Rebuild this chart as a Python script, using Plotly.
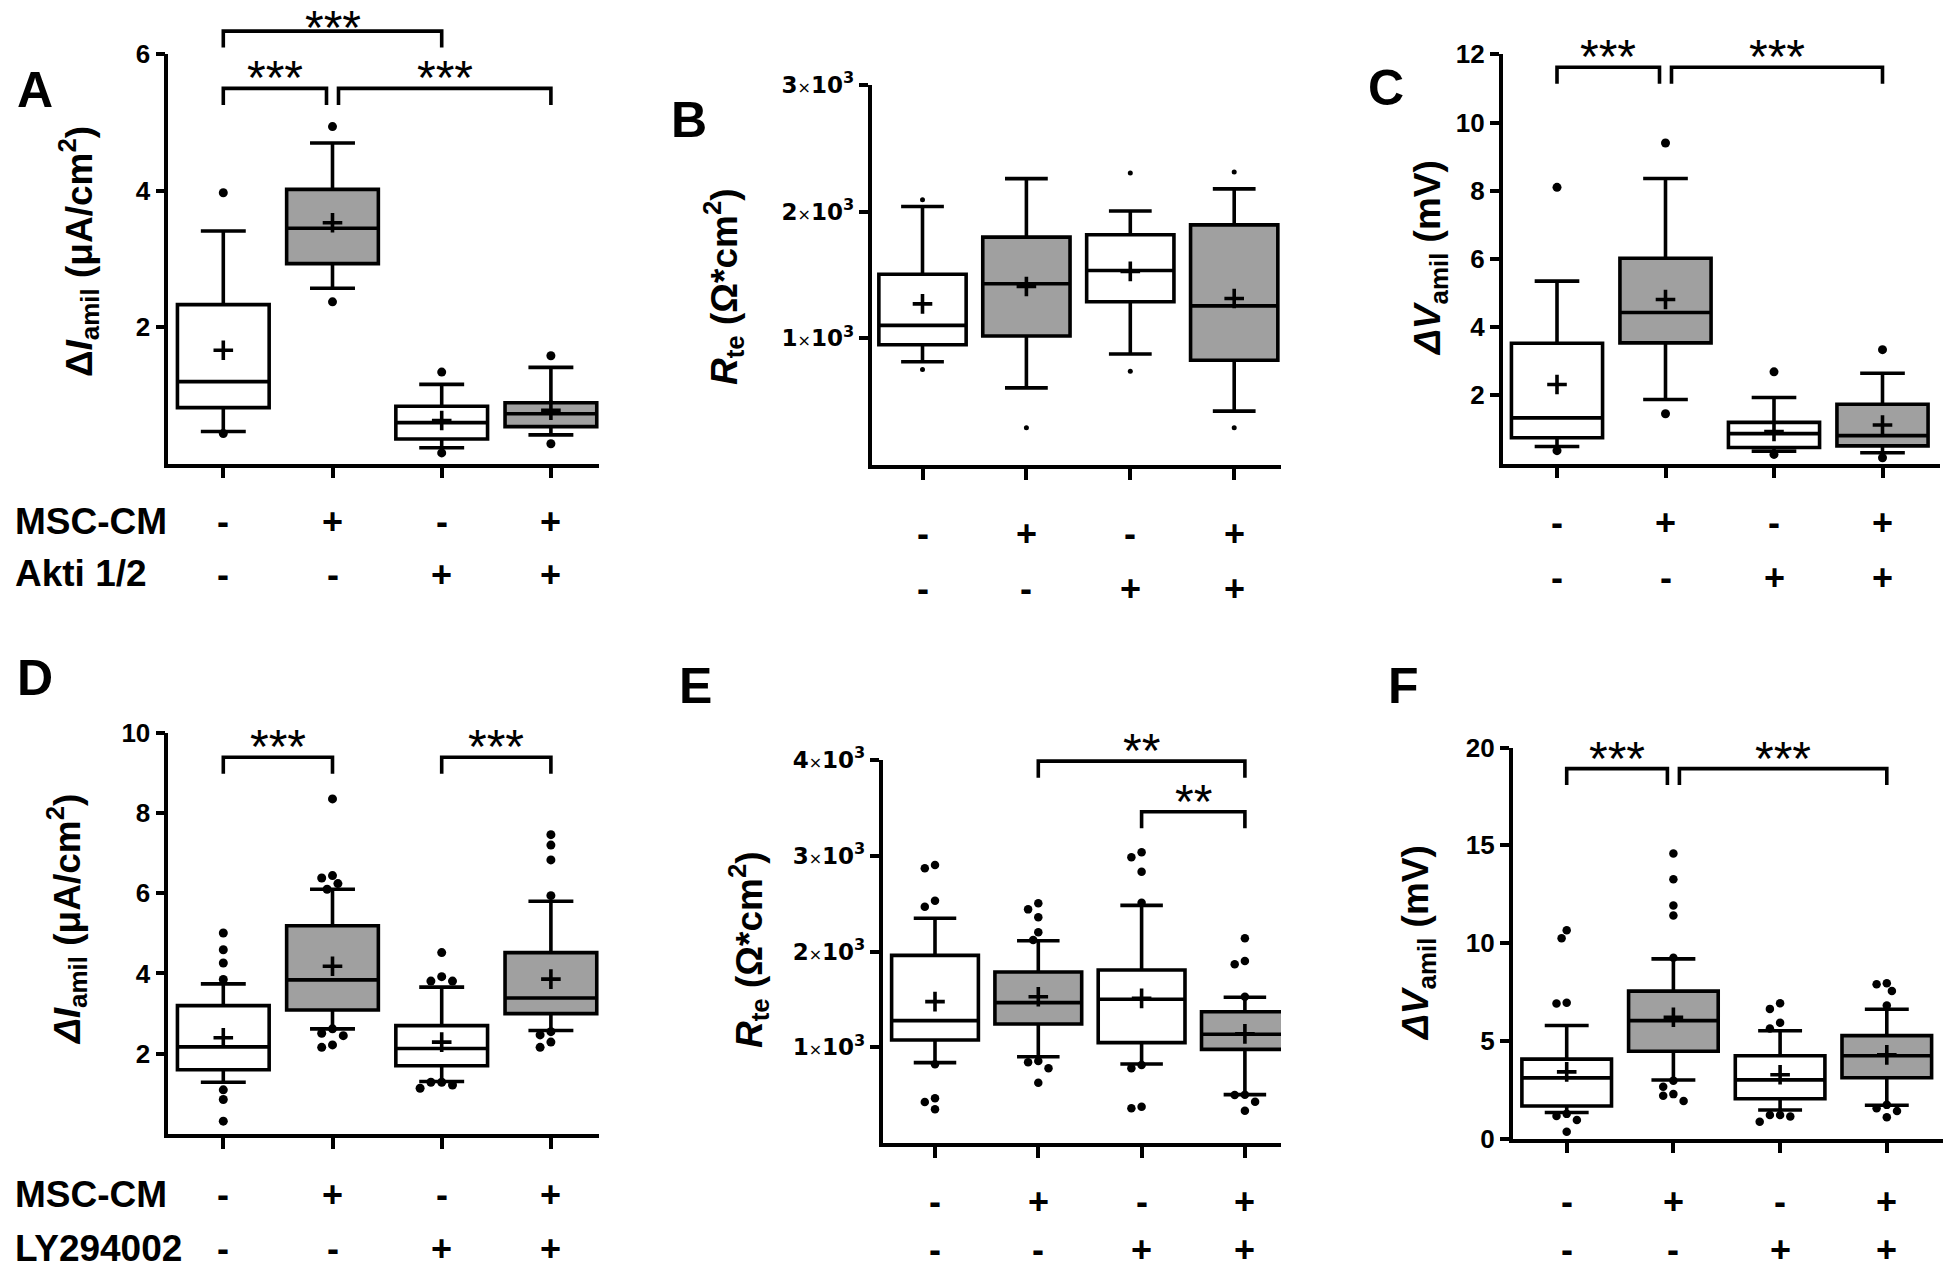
import plotly.graph_objects as go

W, H = 1946, 1270
FONT = "Liberation Sans, Arial, sans-serif"
GRAY = "rgb(160,160,160)"
LW = 3.6

# ---------------- data ----------------
msc_cm_row = ["-", "+", "-", "+"]
inhibitor_row = ["-", "-", "+", "+"]
row_names_top = ["MSC-CM", "Akti 1/2"]
row_names_bottom = ["MSC-CM", "LY294002"]

# Panel A  (ΔI amil, µA/cm2)
A_q1 = [0.82, 2.93, 0.36, 0.54]
A_median = [1.20, 3.45, 0.60, 0.73]
A_q3 = [2.33, 4.02, 0.84, 0.89]
A_low = [0.47, 2.57, 0.23, 0.42]
A_high = [3.41, 4.70, 1.16, 1.41]
A_mean = [1.66, 3.53, 0.63, 0.78]
A_out = [[3.97, 0.44], [4.94, 2.37], [1.34, 0.155], [1.58, 0.29]]
A_yticks = [2, 4, 6]
A_brackets = [(0, 2, 6.34, "***"), (0, 1, 5.50, "***"), (1, 3, 5.50, "***")]

# Panel B  (Rte, Ohm*cm2)
B_q1 = [949, 1018, 1289, 827]
B_median = [1102, 1431, 1535, 1256]
B_q3 = [1506, 1799, 1818, 1896]
B_low = [815, 609, 876, 425]
B_high = [2041, 2261, 2005, 2180]
B_mean = [1272, 1409, 1529, 1314]
B_out = [[2094, 754], [294], [2306, 740], [2314, 294]]
B_yticks = [1000, 2000, 3000]
B_brackets = []

# Panel C  (ΔV amil, mV)
C_q1 = [0.76, 3.54, 0.47, 0.52]
C_median = [1.34, 4.43, 0.88, 0.82]
C_q3 = [3.53, 6.02, 1.21, 1.74]
C_low = [0.50, 1.88, 0.36, 0.32]
C_high = [5.35, 8.36, 1.94, 2.65]
C_mean = [2.32, 4.81, 0.94, 1.13]
C_out = [[8.10, 0.38], [9.40, 1.46], [2.69, 0.27], [3.34, 0.17]]
C_yticks = [2, 4, 6, 8, 10, 12]
C_brackets = [(0, 1, 11.62, "***"), (1, 3, 11.62, "***")]

# Panel D  (ΔI amil, µA/cm2)
D_q1 = [1.60, 3.09, 1.70, 3.00]
D_median = [2.17, 3.84, 2.13, 3.39]
D_q3 = [3.20, 5.19, 2.70, 4.52]
D_low = [1.29, 2.62, 1.31, 2.58]
D_high = [3.74, 6.10, 3.66, 5.80]
D_mean = [2.40, 4.18, 2.29, 3.86]
D_out = [[5.01, 4.59, 4.26, 3.85, 1.10, 0.86, 0.32],
         [8.35, 6.44, 6.38, 6.24, 6.10, 2.62, 2.51, 2.45, 2.22, 2.16],
         [4.52, 3.92, 3.81, 3.81, 1.29, 1.29, 1.22, 1.14],
         [7.46, 7.20, 6.83, 5.94, 2.55, 2.47, 2.29, 2.16]]
D_yticks = [2, 4, 6, 8, 10]
D_brackets = [(0, 1, 9.39, "***"), (2, 3, 9.39, "***")]

# Panel E  (Rte, Ohm*cm2)
E_q1 = [1076, 1243, 1048, 978]
E_median = [1278, 1466, 1501, 1135]
E_q3 = [1960, 1786, 1807, 1371]
E_low = [839, 901, 825, 505]
E_high = [2347, 2113, 2482, 1522]
E_mean = [1476, 1528, 1510, 1140]
E_out = [[2903, 2869, 2531, 2468, 822, 467, 428, 352],
         [2503, 2440, 2357, 2200, 2120, 856, 843, 780, 630],
         [3036, 2984, 2834, 2510, 815, 780, 379, 362],
         [2138, 1901, 1866, 1528, 505, 501, 431, 337]]
E_yticks = [1000, 2000, 3000, 4000]
E_brackets = [(1, 3, 3988, "**"), (2, 3, 3460, "**")]

# Panel F  (ΔV amil, mV)
F_q1 = [1.66, 4.46, 2.03, 3.11]
F_median = [3.10, 6.03, 3.00, 4.23]
F_q3 = [4.06, 7.54, 4.23, 5.26]
F_low = [1.33, 2.99, 1.46, 1.70]
F_high = [5.78, 9.19, 5.51, 6.61]
F_mean = [3.41, 6.20, 3.26, 4.28]
F_out = [[10.65, 10.24, 6.94, 6.91, 1.26, 1.15, 0.95, 0.35],
         [14.58, 13.26, 11.92, 11.41, 9.24, 2.96, 2.65, 2.27, 2.19, 1.92],
         [6.92, 6.63, 5.92, 5.63, 1.20, 1.20, 1.12, 0.86],
         [7.94, 7.89, 7.55, 6.80, 1.72, 1.55, 1.41, 1.09]]
F_yticks = [0, 5, 10, 15, 20]
F_brackets = [(0, 1, 18.92, "***"), (1, 3, 18.92, "***")]

# ---------------- layout (pixel geometry of each panel) ----------------
TITLE_I_A = "Δ<i>I</i><sub>amil</sub> (μA/cm<sup>2</sup>)"
TITLE_I_D = "<i>ΔI</i><sub>amil</sub> (μA/cm<sup>2</sup>)"
TITLE_V = "<i>ΔV</i><sub>amil</sub> (mV)"
TITLE_R = "<i>R</i><sub>te</sub> (Ω*cm<sup>2</sup>)"


def sci(n):
    return f"{n}<span style='font-weight:normal;font-size:16px'>×</span>10<sup>3</sup>"


panels = [
    dict(name="A", q1=A_q1, med=A_median, q3=A_q3, lo=A_low, hi=A_high, mean=A_mean, out=A_out,
         yr=(0, 6), ticks=A_yticks, ticktext=[str(t) for t in A_yticks], br=A_brackets,
         ax=168.3, top=54.3, bot=463.5, right=599, cat0=223.3, step=109.2,
         rows=(521, 574), rownames=row_names_top, title=TITLE_I_A, title_xy=(78, 252),
         letter_xy=(35, 90), dot=9, tickfont=26, tfam=FONT),
    dict(name="B", q1=B_q1, med=B_median, q3=B_q3, lo=B_low, hi=B_high, mean=B_mean, out=B_out,
         yr=(0, 3000), ticks=B_yticks, ticktext=[sci(t // 1000) for t in B_yticks], br=B_brackets,
         ax=871.5, top=85, bot=465, right=1281, cat0=922.5, step=103.9,
         rows=(533, 588), rownames=None, title=TITLE_R, title_xy=(724, 287),
         letter_xy=(689, 120), dot=5, tickfont=23, tfam="DejaVu Sans, sans-serif"),
    dict(name="C", q1=C_q1, med=C_median, q3=C_q3, lo=C_low, hi=C_high, mean=C_mean, out=C_out,
         yr=(0, 12), ticks=C_yticks, ticktext=[str(t) for t in C_yticks], br=C_brackets,
         ax=1502.7, top=54.3, bot=463.6, right=1940, cat0=1557, step=108.5,
         rows=(522, 577), rownames=None, title=TITLE_V, title_xy=(1430, 258),
         letter_xy=(1386, 88), dot=9, tickfont=26, tfam=FONT),
    dict(name="D", q1=D_q1, med=D_median, q3=D_q3, lo=D_low, hi=D_high, mean=D_mean, out=D_out,
         yr=(0, 10), ticks=D_yticks, ticktext=[str(t) for t in D_yticks], br=D_brackets,
         ax=168.3, top=732.7, bot=1134, right=599, cat0=223.3, step=109.2,
         rows=(1194, 1248), rownames=row_names_bottom, title=TITLE_I_D, title_xy=(66, 920),
         letter_xy=(35, 678), dot=9, tickfont=26, tfam=FONT),
    dict(name="E", q1=E_q1, med=E_median, q3=E_q3, lo=E_low, hi=E_high, mean=E_mean, out=E_out,
         yr=(0, 4000), ticks=E_yticks, ticktext=[sci(t // 1000) for t in E_yticks], br=E_brackets,
         ax=882.7, top=760, bot=1143, right=1281, cat0=935, step=103.3,
         rows=(1201, 1249), rownames=None, title=TITLE_R, title_xy=(748, 950),
         letter_xy=(695, 686), dot=8.5, tickfont=23, tfam="DejaVu Sans, sans-serif"),
    dict(name="F", q1=F_q1, med=F_median, q3=F_q3, lo=F_low, hi=F_high, mean=F_mean, out=F_out,
         yr=(0, 20), ticks=F_yticks, ticktext=[str(t) for t in F_yticks], br=F_brackets,
         ax=1512.7, top=747.5, bot=1138.5, right=1943, cat0=1566.7, step=106.7,
         rows=(1201, 1249), rownames=None, title=TITLE_V, title_xy=(1418, 943),
         letter_xy=(1403, 686), dot=8.5, tickfont=26, tfam=FONT),
]


def px_x(p):
    return p / W


def px_y(p):
    return 1 - p / H


def dodge(vals, ppu, ppc, diam):
    """simple beeswarm-like horizontal spreading of overlapping dots"""
    placed, offs = [], []
    step = diam * 0.6
    order = [0]
    for n in range(1, 10):
        order += [-n, n]
    for v in vals:
        ypx = v * ppu
        xo = 0
        for k in order:
            xo = k * step
            if all((xo - a) ** 2 + (ypx - b) ** 2 >= (diam * 1.05) ** 2 for a, b in placed):
                break
        placed.append((xo, ypx))
        offs.append(xo / ppc)
    return offs


fig = go.Figure()
annotations = []
shapes = []
STAR_SIZE = 48

for k, p in enumerate(panels, start=1):
    xs = "" if k == 1 else str(k)
    xref, yref = "x" + xs, "y" + xs
    lo_v, hi_v = p["yr"]
    ppu = (p["bot"] - p["top"]) / (hi_v - lo_v)
    xr = [(p["ax"] - p["cat0"]) / p["step"], (p["right"] - p["cat0"]) / p["step"]]

    fig.layout["xaxis" + xs] = dict(
        domain=[px_x(p["ax"]), px_x(p["right"])], range=xr, anchor=yref,
        showline=True, linewidth=LW, linecolor="black", ticks="outside", ticklen=11,
        tickwidth=LW, tickcolor="black", tickvals=[0, 1, 2, 3], showticklabels=False,
        showgrid=False, zeroline=False, fixedrange=True, automargin=False)
    fig.layout["yaxis" + xs] = dict(
        domain=[px_y(p["bot"]), px_y(p["top"])], range=[lo_v, hi_v], anchor=xref,
        showline=True, linewidth=LW, linecolor="black", ticks="outside", ticklen=9,
        tickwidth=LW, tickcolor="black", tickvals=p["ticks"], ticktext=p["ticktext"],
        tickfont=dict(family=p["tfam"], size=p["tickfont"], color="black", weight="bold"),
        showgrid=False, zeroline=False, fixedrange=True, automargin=False)

    for idxs, col in (([0, 2], "white"), ([1, 3], GRAY)):
        fig.add_trace(go.Box(
            x=idxs, q1=[p["q1"][i] for i in idxs], median=[p["med"][i] for i in idxs],
            q3=[p["q3"][i] for i in idxs], lowerfence=[p["lo"][i] for i in idxs],
            upperfence=[p["hi"][i] for i in idxs], orientation="v",
            fillcolor=col, line=dict(color="black", width=LW), width=0.84,
            whiskerwidth=0.49, boxpoints=False, xaxis=xref, yaxis=yref,
            showlegend=False, hoverinfo="skip"))

    # mean markers
    fig.add_trace(go.Scatter(
        x=[0, 1, 2, 3], y=p["mean"], mode="markers", xaxis=xref, yaxis=yref,
        marker=dict(symbol="cross-thin", size=14, color="black",
                    line=dict(width=LW, color="black")),
        showlegend=False, hoverinfo="skip"))

    # outliers
    ox, oy = [], []
    for i, vals in enumerate(p["out"]):
        offs = dodge(vals, ppu, p["step"], p["dot"])
        ox += [i + o for o in offs]
        oy += vals
    fig.add_trace(go.Scatter(
        x=ox, y=oy, mode="markers", xaxis=xref, yaxis=yref, cliponaxis=False,
        marker=dict(symbol="circle", size=p["dot"], color="black"),
        showlegend=False, hoverinfo="skip"))

    # significance brackets
    leg = 16.5 / ppu
    inset = 6 / p["step"]

    def yd(v):
        return (v - lo_v) / (hi_v - lo_v)

    for (i, j, lev, lab) in p["br"]:
        x0, x1 = float(i), float(j)
        for (a, b, l2, _) in p["br"]:
            if l2 == lev and (a, b) != (i, j):
                if b == i:
                    x0 += inset
                if a == j:
                    x1 -= inset
        shapes.append(dict(
            type="path", xref=xref, yref=yref + " domain",
            path=f"M {x0},{yd(lev - leg)} L {x0},{yd(lev)} L {x1},{yd(lev)} L {x1},{yd(lev - leg)}",
            line=dict(color="black", width=LW)))
        # keep the label's text box inside the figure
        bracket_px = p["top"] + (hi_v - lev) * ppu
        ys = min(11, bracket_px - 0.56 * STAR_SIZE)
        annotations.append(dict(
            x=(x0 + x1) / 2, y=yd(lev), xref=xref, yref=yref + " domain", text=lab,
            showarrow=False, xanchor="center", yanchor="middle", yshift=ys, borderpad=0,
            height=38, valign="middle",
            font=dict(family=FONT, size=STAR_SIZE, color="black")))

    # condition rows
    for r, signs in enumerate((msc_cm_row, inhibitor_row)):
        for i, s in enumerate(signs):
            annotations.append(dict(
                x=i, y=px_y(p["rows"][r]), xref=xref, yref="paper", text=s,
                showarrow=False, xanchor="center", yanchor="middle", borderpad=0,
                height=28, valign="middle",
                font=dict(family=FONT, size=36, color="black", weight="bold")))
        if p["rownames"]:
            annotations.append(dict(
                x=px_x(14), y=px_y(p["rows"][r]), xref="paper", yref="paper",
                text=p["rownames"][r], showarrow=False, xanchor="left", yanchor="middle",
                borderpad=0, font=dict(family=FONT, size=37, color="black", weight="bold")))

    # axis title
    annotations.append(dict(
        x=px_x(p["title_xy"][0]), y=px_y(p["title_xy"][1]), xref="paper", yref="paper",
        text=p["title"], textangle=-90, showarrow=False, xanchor="center", yanchor="middle",
        font=dict(family=FONT, size=37, color="black", weight="bold")))

    # panel letter
    annotations.append(dict(
        x=px_x(p["letter_xy"][0]), y=px_y(p["letter_xy"][1]), xref="paper", yref="paper",
        text=p["name"], showarrow=False, xanchor="center", yanchor="middle",
        font=dict(family=FONT, size=50, color="black", weight="bold")))

fig.update_layout(
    width=W, height=H, margin=dict(l=0, r=0, t=0, b=0, pad=0, autoexpand=False),
    paper_bgcolor="white", plot_bgcolor="rgba(0,0,0,0)", showlegend=False,
    boxmode="overlay", annotations=annotations, shapes=shapes,
    font=dict(family=FONT, color="black"))

fig.write_html("out.html", config={"displayModeBar": False},
               post_script="document.body.style.margin='0px';")
